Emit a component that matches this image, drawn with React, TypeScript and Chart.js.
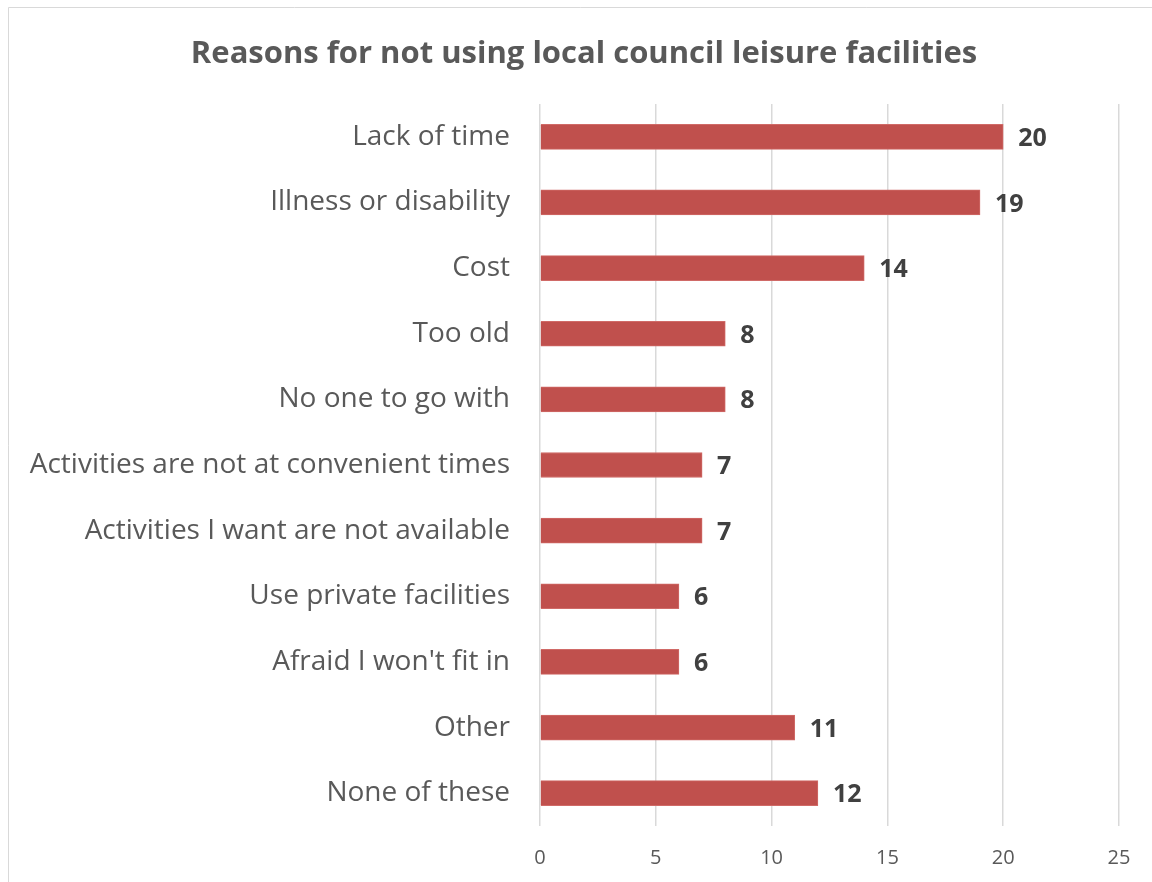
import React, { useEffect, useRef } from "react";
import { Chart, registerables } from "chart.js";

Chart.register(...registerables);

const TITLE = "Reasons for not using local council leisure facilities";
const categories = [
  "Lack of time",
  "Illness or disability",
  "Cost",
  "Too old",
  "No one to go with",
  "Activities are not at convenient times",
  "Activities I want are not available",
  "Use private facilities",
  "Afraid I won't fit in",
  "Other",
  "None of these",
];
const values = [20, 19, 14, 8, 8, 7, 7, 6, 6, 11, 12];
const xTicks = [0, 5, 10, 15, 20, 25];

const FONT = "'Open Sans', sans-serif";

const frame = {
  id: "frame",
  beforeDraw(chart: any) {
    const { ctx } = chart;
    ctx.save();
    ctx.fillStyle = "#ffffff";
    ctx.fillRect(0, 0, chart.width, chart.height);
    ctx.strokeStyle = "#d9d9d9";
    ctx.lineWidth = 1;
    ctx.beginPath();
    ctx.moveTo(8.5, chart.height + 5);
    ctx.lineTo(8.5, 7.5);
    ctx.lineTo(chart.width + 5, 7.5);
    ctx.stroke();
    ctx.fillStyle = "#595959";
    ctx.font = `bold 31px ${FONT}`;
    ctx.textAlign = "center";
    ctx.textBaseline = "middle";
    ctx.fillText(TITLE, 584, 54);
    ctx.restore();
  },
};

const barLabels = {
  id: "barLabels",
  afterDatasetsDraw(chart: any) {
    const { ctx } = chart;
    const meta = chart.getDatasetMeta(0);
    ctx.save();
    ctx.fillStyle = "#404040";
    ctx.font = `bold 25px ${FONT}`;
    ctx.textAlign = "left";
    ctx.textBaseline = "middle";
    meta.data.forEach((el: any, i: number) => {
      ctx.fillText(String(values[i]), el.x + 15, el.y + 2);
    });
    ctx.restore();
  },
};

export default function App() {
  const ref = useRef<HTMLCanvasElement | null>(null);
  useEffect(() => {
    if (!ref.current) return;
    const chart = new Chart(ref.current, {
      type: "bar",
      data: {
        labels: categories,
        datasets: [
          {
            data: values,
            backgroundColor: "#c0504d",
            borderColor: "#d06a67",
            borderWidth: 1,
            barThickness: 25,
          },
        ],
      },
      options: {
        indexAxis: "y",
        animation: false,
        responsive: false,
        layout: { padding: { top: 104, right: 33, bottom: 0, left: 0 } },
        plugins: {
          legend: { display: false },
          title: { display: false },
          tooltip: { enabled: false },
        },
        scales: {
          x: {
            min: 0,
            max: 25,
            afterBuildTicks(scale: any) {
              scale.ticks = xTicks.map((v) => ({ value: v }));
            },
            afterFit(scale: any) {
              scale.height = 882 - 826;
            },
            grid: { color: "#d9d9d9", lineWidth: 1.5, drawTicks: false },
            border: { display: false },
            ticks: {
              color: "#595959",
              font: { family: FONT, size: 20 },
              padding: 20,
              maxRotation: 0,
            },
          },
          y: {
            afterFit(scale: any) {
              scale.width = 540;
            },
            grid: { display: false, drawTicks: false },
            border: { display: false },
            ticks: {
              color: "#595959",
              font: { family: FONT, size: 28 },
              padding: 30,
            },
          },
        },
      },
      plugins: [frame, barLabels],
    });
    return () => chart.destroy();
  }, []);
  return (
    <div style={{ position: "absolute", left: 0, top: 0, width: 1152, height: 882 }}>
      <canvas ref={ref} width={1152} height={882} style={{ width: 1152, height: 882 }} />
    </div>
  );
}
